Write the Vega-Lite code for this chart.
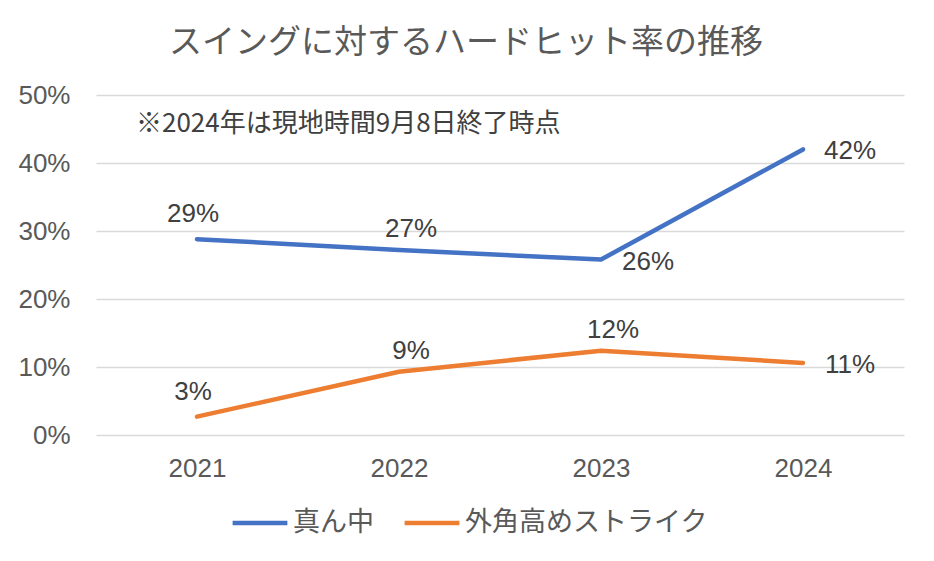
{
  "$schema": "https://vega.github.io/schema/vega-lite/v6.json",
  "width": 808,
  "height": 340,
  "autosize": {"type": "none"},
  "padding": {"left": 96, "top": 95, "right": 30, "bottom": 126},
  "background": "white",
  "view": {"stroke": null},
  "title": {
    "text": "スイングに対するハードヒット率の推移",
    "font": "Noto Sans CJK JP",
    "fontSize": 33,
    "fontWeight": "normal",
    "color": "#595959",
    "anchor": "middle",
    "frame": "group",
    "dx": -34,
    "offset": 22
  },
  "data": {
    "values": [
      {"year": "2021", "series": "真ん中", "rate": 0.288},
      {"year": "2022", "series": "真ん中", "rate": 0.272},
      {"year": "2023", "series": "真ん中", "rate": 0.258},
      {"year": "2024", "series": "真ん中", "rate": 0.420},
      {"year": "2021", "series": "外角高めストライク", "rate": 0.027},
      {"year": "2022", "series": "外角高めストライク", "rate": 0.093},
      {"year": "2023", "series": "外角高めストライク", "rate": 0.124},
      {"year": "2024", "series": "外角高めストライク", "rate": 0.106}
    ]
  },
  "encoding": {
    "x": {
      "field": "year",
      "type": "ordinal",
      "scale": {"type": "point", "padding": 0.5},
      "axis": {
        "title": null,
        "labelAngle": 0,
        "labelFont": "Liberation Sans",
        "labelFontSize": 26,
        "labelColor": "#595959",
        "labelPadding": 20,
        "ticks": false,
        "domain": false,
        "grid": false
      }
    },
    "y": {
      "field": "rate",
      "type": "quantitative",
      "scale": {"domain": [0, 0.5], "nice": false},
      "axis": {
        "title": null,
        "values": [0, 0.1, 0.2, 0.3, 0.4, 0.5],
        "format": ".0%",
        "labelFont": "Liberation Sans",
        "labelFontSize": 26,
        "labelColor": "#595959",
        "labelPadding": 26,
        "ticks": false,
        "domain": false,
        "grid": true,
        "gridColor": "#d9d9d9",
        "gridWidth": 1.3
      }
    }
  },
  "layer": [
    {
      "mark": {"type": "line", "strokeWidth": 4.5, "strokeCap": "round", "strokeJoin": "round"},
      "encoding": {
        "color": {
          "field": "series",
          "type": "nominal",
          "scale": {"domain": ["真ん中", "外角高めストライク"], "range": ["#4472C4", "#ED7D31"]},
          "legend": {
            "title": null,
            "orient": "none",
            "direction": "horizontal",
            "legendX": 134,
            "legendY": 398,
            "padding": 0,
            "symbolType": "stroke",
            "symbolSize": 3000,
            "symbolStrokeWidth": 4.5,
            "labelFont": "Noto Sans CJK JP",
            "labelFontSize": 27,
            "labelColor": "#595959",
            "labelOffset": 3,
            "labelLimit": 400,
            "columnPadding": 21
          }
        }
      }
    },
    {
      "transform": [{"filter": "datum.year == '2021'"}],
      "mark": {"type": "text", "font": "Liberation Sans", "fontSize": 26, "color": "#404040", "dx": -4, "dy": -25},
      "encoding": {"text": {"field": "rate", "type": "quantitative", "format": ".0%"}}
    },
    {
      "transform": [{"filter": "datum.year == '2022' || (datum.year == '2023' && datum.series == '外角高めストライク')"}],
      "mark": {"type": "text", "font": "Liberation Sans", "fontSize": 26, "color": "#404040", "dx": 12, "dy": -21},
      "encoding": {"text": {"field": "rate", "type": "quantitative", "format": ".0%"}}
    },
    {
      "transform": [{"filter": "datum.year == '2024' || (datum.year == '2023' && datum.series == '真ん中')"}],
      "mark": {"type": "text", "font": "Liberation Sans", "fontSize": 26, "color": "#404040", "dx": 47, "dy": 2},
      "encoding": {"text": {"field": "rate", "type": "quantitative", "format": ".0%"}}
    },
    {
      "transform": [{"filter": "datum.year == '2021' && datum.series == '真ん中'"}],
      "mark": {"type": "text", "font": "Noto Sans CJK JP", "fontSize": 26, "fontWeight": "normal", "color": "#404040", "align": "left", "baseline": "middle", "dx": -61},
      "encoding": {
        "y": {"datum": 0.457},
        "text": {"value": "※2024年は現地時間9月8日終了時点"}
      }
    }
  ]
}
